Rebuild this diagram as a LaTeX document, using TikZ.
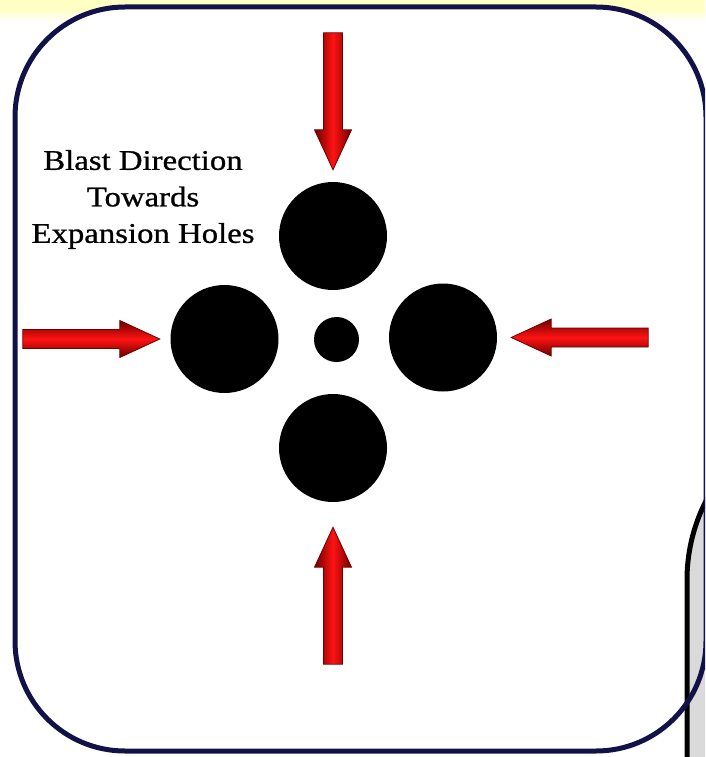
\documentclass[tikz,border=0pt]{standalone}
\usepackage{fontspec}
\setmainfont[FakeStretch=1.15,FakeBold=0.8]{Liberation Serif}
\usepackage{tikz}
\usetikzlibrary{positioning}
\definecolor{bhNavy}{RGB}{18,18,72}
\definecolor{bhRed}{RGB}{255,18,18}
\definecolor{bhDark}{RGB}{110,0,0}
\definecolor{bhGrey}{RGB}{218,218,218}
\definecolor{bhBand}{RGB}{255,255,196}
\tikzset{
  hole/.style={circle, fill=black, inner sep=0pt},
  frame/.style={draw=bhNavy, line width=5pt, rounded corners=110pt},
  arrowbody/.style={top color=bhDark, bottom color=bhDark, middle color=bhRed,
    draw=bhDark, line width=0.8pt},
  blastarrow/.pic={
    \path[arrowbody, shading angle=#1] (0,0) -- (-40,18.5) -- (-40,9.5) -- (-137,9.5)
      -- (-137,-9.5) -- (-40,-9.5) -- (-40,-18.5) -- cycle;
  }
}
\begin{document}
\begin{tikzpicture}[x=1pt,y=1pt]
  \useasboundingbox (0,0) rectangle (705,-757);
  \clip (0,0) rectangle (705,-757);
  % page background
  \fill[bhBand] (0,0) rectangle (705,-9);
  \shade[top color=bhBand, bottom color=white] (0,-9) rectangle (705,-22);
  \fill[white, rounded corners=110pt] (15,-7) rectangle (706,-751);
  % next slide panel, bottom right
  \filldraw[fill=bhGrey, draw=black, line width=5pt] (687,-800) -- (687,-580)
    arc[start angle=180, end angle=90, radius=174] -- (900,-406) -- (900,-800) -- cycle;
  \draw[frame] (15,-7) rectangle (706,-751);

  % holes
  \node[hole, minimum size=108pt] (hTop) at (333,-236) {};
  \node[hole, minimum size=108pt] (hLeft) at (224.5,-339) {};
  \node[hole, minimum size=108pt] (hRight) at (443,-337.5) {};
  \node[hole, minimum size=108pt] (hBottom) at (333,-448) {};
  \node[hole, minimum size=45pt] (hCentre) at (336.5,-339.5) {};

  \node[align=center, font=\fontsize{28.5}{36.5}\selectfont] (lblBlast) at (143,-199.5)
    {Blast Direction\\Towards\\Expansion Holes};

  % blast arrows
  \coordinate[above=12pt of hTop] (tTop);
  \coordinate[left=10.5pt of hLeft] (tLeft);
  \coordinate[right=14pt of hRight] (tRight);
  \coordinate[below=25pt of hBottom] (tBottom);
  \pic[rotate=-90] at (tTop) {blastarrow=90};
  \pic at (tLeft) {blastarrow=0};
  \pic[rotate=180] at (tRight) {blastarrow=0};
  \pic[rotate=90] at (tBottom) {blastarrow=90};
\end{tikzpicture}
\end{document}
